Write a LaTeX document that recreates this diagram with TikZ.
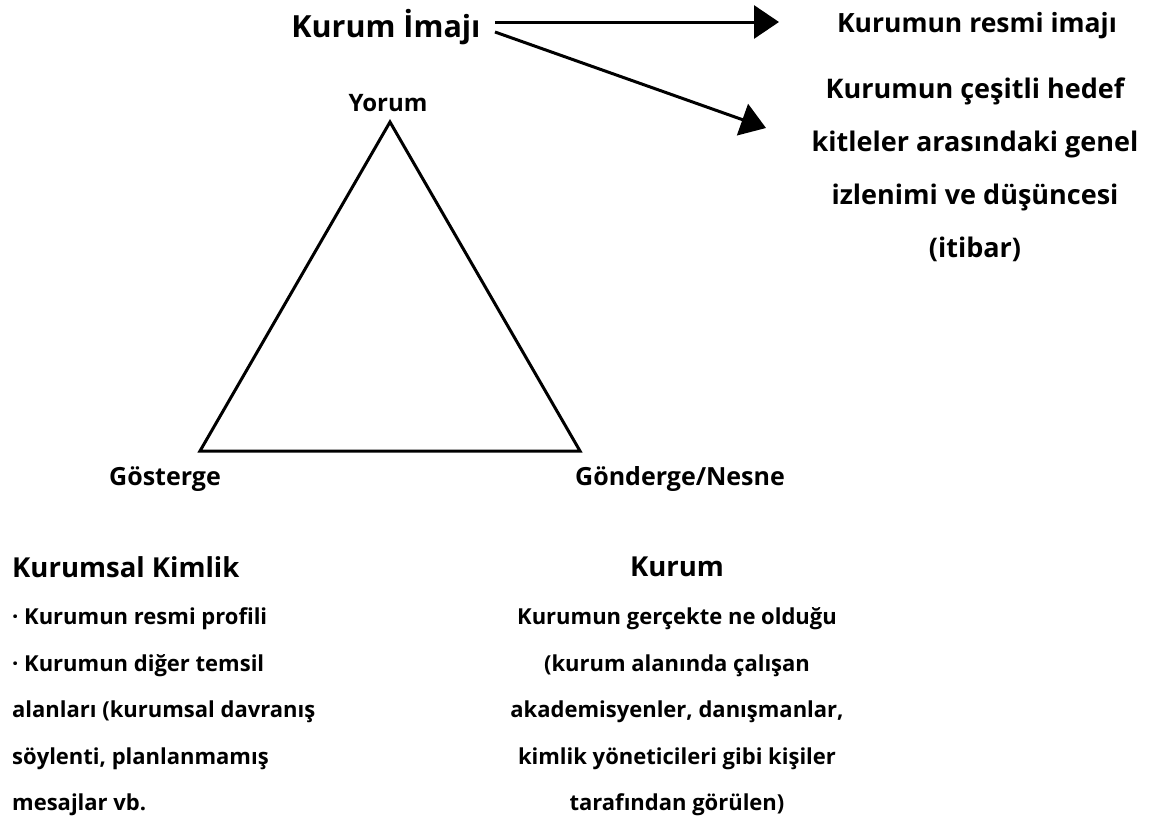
\documentclass[tikz,border=0pt]{standalone}
\usepackage{fontspec}
\setmainfont{Open Sans}
\usetikzlibrary{arrows.meta}
\begin{document}
\begin{tikzpicture}[x=1pt,y=-1pt,
  lbl/.style={font=\bfseries\fontsize{26.5}{26.5}\selectfont, inner sep=0pt},
  head/.style={font=\bfseries\fontsize{27.5}{27.5}\selectfont, inner sep=0pt},
  blk/.style={font=\bfseries\fontsize{27}{53}\selectfont, inner sep=0pt, align=center},
  blkl/.style={font=\bfseries\fontsize{22}{46.5}\selectfont, inner sep=0pt, align=left},
  conn/.style={line width=3pt, -{Triangle[length=25pt,width=33pt]}},
  tri/.style={line width=3pt, line join=miter}]
\useasboundingbox (0,0) rectangle (1159,822);
\node[head, font=\bfseries\fontsize{30.5}{30.5}\selectfont] (imaj) at (386,27) {Kurum İmajı};
\node[lbl] (resmi) at (977,26) {Kurumun resmi imajı};
\node[blk] (itibar) at (975,170) {Kurumun çeşitli hedef\\kitleler arasındaki genel\\izlenimi ve düşüncesi\\(itibar)};
\coordinate (s1) at (495,22);
\coordinate (e1) at (779,22);
\coordinate (s2) at (495,32);
\coordinate (e2) at (766,128);
\draw[conn] (s1) -- (e1);
\draw[conn] (s2) -- (e2);
\node[lbl,font=\bfseries\fontsize{24}{24}\selectfont] (yorum) at (388,103) {Yorum};
\coordinate (A) at (390,122);
\coordinate (B) at (200,451);
\coordinate (C) at (580,451);
\draw[tri] (A) -- (B) -- (C) -- cycle;
\node[lbl,font=\bfseries\fontsize{25}{25}\selectfont] (gosterge) at (165,479) {Gösterge};
\node[lbl,font=\bfseries\fontsize{25}{25}\selectfont] (gonderge) at (680,479) {Gönderge/Nesne};
\node[head, anchor=west] (kimlik) at (12,567) {Kurumsal Kimlik};
\node[blkl, anchor=west] (kimliktxt) at (12,712) {· Kurumun resmi profili\\· Kurumun diğer temsil\\alanları (kurumsal davranış\\söylenti, planlanmamış\\mesajlar vb.};
\node[head] (kurum) at (677,567) {Kurum};
\node[blk, font=\bfseries\fontsize{22}{46.5}\selectfont] (kurumtxt) at (677,712) {Kurumun gerçekte ne olduğu\\(kurum alanında çalışan\\akademisyenler, danışmanlar,\\kimlik yöneticileri gibi kişiler\\tarafından görülen)};
\end{tikzpicture}
\end{document}
